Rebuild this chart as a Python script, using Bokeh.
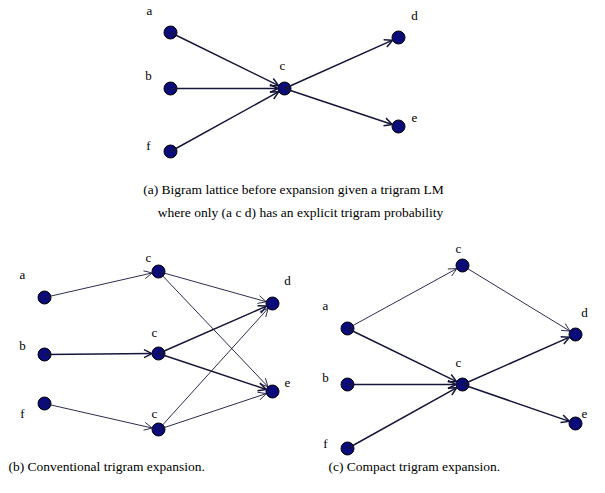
import math
from bokeh.plotting import figure
from bokeh.models import Range1d, Arrow, OpenHead, ColumnDataSource
from bokeh.core.properties import value
from bokeh.embed import file_html
from bokeh.resources import INLINE

# ---- data: node names and edges of the three lattices ----
nodes_a = ["a", "b", "f", "c", "d", "e"]
edges_a = [("a", "c"), ("b", "c"), ("f", "c"), ("c", "d"), ("c", "e")]
bold_a = [True, True, True, True, True]

nodes_b = ["a", "b", "f", "c1", "c2", "c3", "d", "e"]
edges_b = [("a", "c1"), ("b", "c2"), ("f", "c3"),
           ("c1", "d"), ("c1", "e"), ("c2", "d"), ("c2", "e"),
           ("c3", "d"), ("c3", "e")]
bold_b = [False, True, False, False, False, True, True, False, False]

nodes_c = ["a", "b", "f", "c1", "c2", "d", "e"]
edges_c = [("a", "c1"), ("a", "c2"), ("b", "c2"), ("f", "c2"),
           ("c1", "d"), ("c2", "d"), ("c2", "e")]
bold_c = [False, True, True, True, False, True, True]

captions = ["(a) Bigram lattice before expansion given a trigram LM",
            "where only (a c d) has an explicit trigram probability",
            "(b) Conventional trigram expansion.",
            "(c) Compact trigram expansion."]

# ---- layout (reference pixel positions) ----
pos_a = {"a": (170, 32), "b": (170, 88), "f": (170, 151), "c": (284, 88),
         "d": (398, 37), "e": (398, 126)}
lab_a = {"a": (149, 10), "b": (148, 75), "f": (148, 145), "c": (282, 65),
         "d": (414, 15), "e": (414, 117)}
pos_b = {"a": (44, 297), "b": (44, 354), "f": (44, 403), "c1": (158, 271),
         "c2": (158, 353), "c3": (158, 429), "d": (272, 303), "e": (272, 391)}
lab_b = {"a": (22, 274), "b": (22, 345), "f": (22, 413), "c1": (148, 257),
         "c2": (154, 332), "c3": (154, 413), "d": (287, 280), "e": (287, 382)}
pos_c = {"a": (347, 328), "b": (347, 384), "f": (347, 448), "c1": (462, 265),
         "c2": (462, 384), "d": (575, 334), "e": (575, 423)}
lab_c = {"a": (325, 305), "b": (325, 377), "f": (325, 443), "c1": (458, 248),
         "c2": (458, 362), "d": (584, 312), "e": (584, 413)}

W, H = 589, 477
p = figure(width=W, height=H, output_backend="svg", toolbar_location=None,
           x_range=Range1d(0, W), y_range=Range1d(H, 0),
           min_border=0)
p.axis.visible = False
p.grid.visible = False
p.outline_line_color = None
p.background_fill_color = "white"
p.border_fill_color = "white"

LINE = "#15153a"
FILL = "#0b0b7a"
R = 6.5
FONT = value("'Liberation Serif', serif")


def draw(nodes, edges, bold, pos, lab):
    for (s, t), b in zip(edges, bold):
        x0, y0 = pos[s]
        x1, y1 = pos[t]
        d = math.hypot(x1 - x0, y1 - y0)
        ux, uy = (x1 - x0) / d, (y1 - y0) / d
        w = 1.5 if b else 0.9
        p.add_layout(Arrow(
            end=OpenHead(size=8, line_color=LINE, line_width=w),
            x_start=x0, y_start=y0, x_end=x1 - ux * R, y_end=y1 - uy * R,
            line_color=LINE, line_width=w))
    src = ColumnDataSource(dict(
        x=[pos[n][0] for n in nodes], y=[pos[n][1] for n in nodes]))
    p.scatter("x", "y", source=src, size=2 * R, fill_color=FILL,
              line_color="black", line_width=1)
    names = [n[0] for n in nodes]
    lsrc = ColumnDataSource(dict(
        x=[lab[n][0] for n in nodes], y=[lab[n][1] for n in nodes], t=names))
    p.text("x", "y", text="t", source=lsrc, text_font=FONT,
           text_font_size="13px", text_align="center",
           text_baseline="middle", text_color="black")


draw(nodes_a, edges_a, bold_a, pos_a, lab_a)
draw(nodes_b, edges_b, bold_b, pos_b, lab_b)
draw(nodes_c, edges_c, bold_c, pos_c, lab_c)

csrc = ColumnDataSource(dict(x=[293, 300], y=[189, 212], t=captions[:2]))
p.text("x", "y", text="t", source=csrc, text_font=FONT,
       text_font_size="13.5px", text_align="center", text_baseline="middle",
       text_color="black")
bsrc = ColumnDataSource(dict(x=[8, 328], y=[466, 466], t=captions[2:]))
p.text("x", "y", text="t", source=bsrc, text_font=FONT,
       text_font_size="13.5px", text_align="left", text_baseline="middle",
       text_color="black")

open("out.html", "w").write(file_html(p, INLINE))
